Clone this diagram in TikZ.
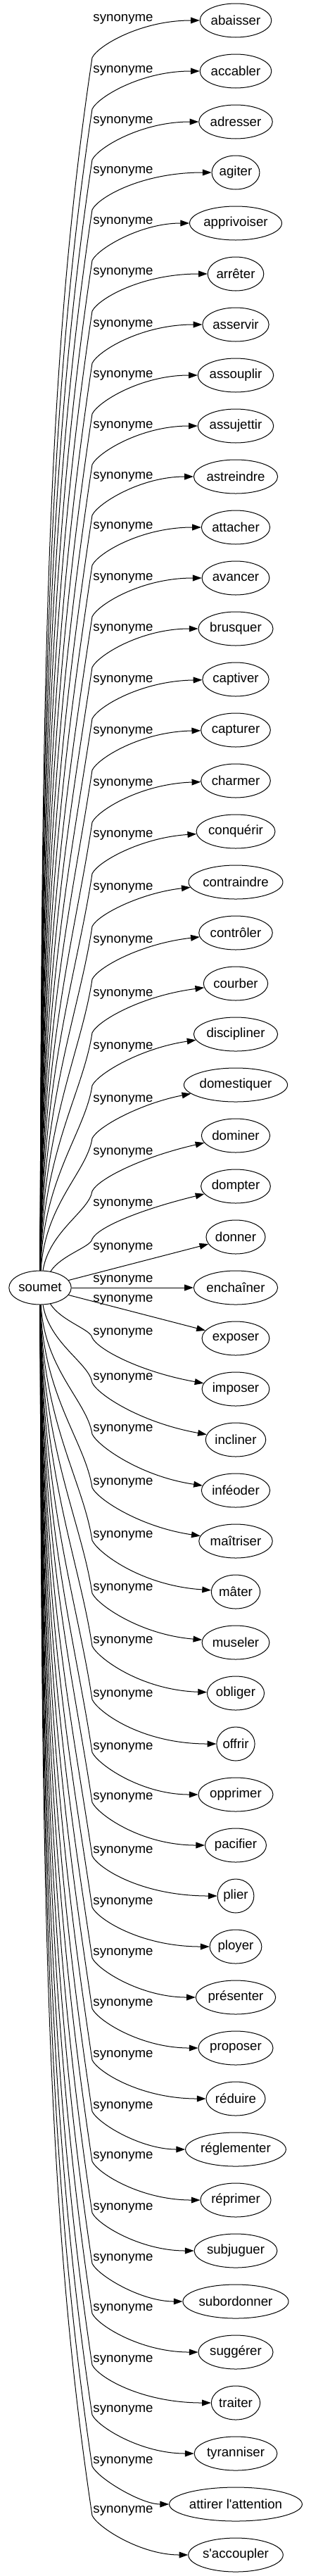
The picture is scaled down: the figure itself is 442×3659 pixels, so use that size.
\documentclass[tikz,border=0pt]{standalone}
\usepackage{fontspec}
\usetikzlibrary{arrows.meta,shapes.geometric}
\newfontfamily\lsans{Liberation Sans}
\newfontfamily\tms{Liberation Serif}
\newlength\twd
\begin{document}
\begin{tikzpicture}[x=0.75pt,y=-0.75pt,
  tgt/.style={draw, ellipse, line width=0.75pt, inner sep=0.5pt, minimum height=36pt, font=\lsans\fontsize{14}{16}\selectfont},
  lbl/.style={inner sep=0pt, font=\lsans\fontsize{14}{16}\selectfont},
  edge/.style={draw, line width=0.75pt, -{Triangle[length=9.5pt,width=6.6pt]}}]
\useasboundingbox (0,0) rectangle (442,3659);
\settowidth\twd{\tms\fontsize{14}{16}\selectfont soumet}
\pgfmathsetmacro\ew{1.4142*(\twd+15.84)}
\node[tgt, minimum width=\ew pt] (soumet) at (57,1829) {soumet};
\foreach \idx/\txt/\acc/\lab/\dl in {
0/abaisser/0/27/0,
1/accabler/0/100/0,
2/adresser/0/172/0,
3/agiter/0/243/0,
4/apprivoiser/0/315/0,
5/arrêter/1/387/0,
6/asservir/0/461/0,
7/assouplir/0/533/0,
8/assujettir/0/605/0,
9/astreindre/0/677/0,
10/attacher/0/748/0,
11/avancer/0/821/0,
12/brusquer/0/893/0,
13/captiver/0/966/1,
14/capturer/0/1039/1,
15/charmer/0/1113/2,
16/conquérir/1/1186/4,
17/contraindre/0/1261/7,
18/contrôler/1/1336/7,
19/courber/0/1412/8,
20/discipliner/0/1487/9,
21/domestiquer/0/1562/12,
22/dominer/0/1637/14,
23/dompter/0/1710/15,
24/donner/0/1772/0,
25/enchaîner/1/1818/0,
26/exposer/0/1846/0,
27/imposer/0/1893/-11,
28/incliner/0/1957/-11,
29/inféoder/1/2030/-9,
30/maîtriser/1/2106/-9,
31/mâter/1/2181/-4,
32/museler/0/2256/-5,
33/obliger/0/2331/-2,
34/offrir/0/2407/0,
35/opprimer/0/2482/0,
36/pacifier/0/2553/0,
37/plier/0/2629/0,
38/ployer/0/2702/0,
39/présenter/1/2774/0,
40/proposer/0/2846/0,
41/réduire/1/2919/0,
42/réglementer/2/2992/0,
43/réprimer/1/3063/0,
44/subjuguer/0/3136/0,
45/subordonner/0/3208/0,
46/suggérer/2/3279/0,
47/traiter/0/3352/0,
48/tyranniser/0/3423/0,
49/attirer l'attention/0/3496/0,
50/s'accoupler/0/3566/0}{
  \settowidth\twd{\tms\fontsize{14}{16}\selectfont \txt}
  \pgfmathsetmacro\ew{1.4142*(\twd+7*\acc+15.84)}
  \pgfmathsetmacro\ty{29+72*\idx}
  \node[tgt, minimum width=\ew pt] (t\idx) at (335,\ty) {\txt};
  \node[lbl] (l\idx) at (175,\lab) {synonyme};
  \ifnum\idx<24
    \pgfmathsetmacro\nn{23-\idx}
    \pgfmathsetmacro\Wy{\lab+(\idx==23?50:55)}
    \pgfmathsetmacro\hh{1805-\Wy}
    \pgfmathsetmacro\cc{2+28/(1+1.5*\nn*\nn)}
    \pgfmathsetmacro\cAx{57+\cc}
    \pgfmathsetmacro\cAy{1805-0.5*\hh}
    \pgfmathsetmacro\cBx{131-0.0375*\hh}
    \pgfmathsetmacro\cBy{\Wy+0.25*\hh}
    \pgfmathsetmacro\cCy{\Wy-17}
    \pgfmathsetmacro\cDy{\ty+2.2*\dl}
    \draw[edge] (soumet) .. controls (\cAx,\cAy) and (\cBx,\cBy) .. (131,\Wy) .. controls (139,\cCy) and (200,\cDy) .. (t\idx);
  \else
    \ifnum\idx>26
      \pgfmathsetmacro\nn{\idx-27}
      \pgfmathsetmacro\Wy{\lab+7}
      \pgfmathsetmacro\hh{\Wy-1853}
      \pgfmathsetmacro\cc{2+28/(1+1.5*\nn*\nn)}
      \pgfmathsetmacro\cAx{57+\cc}
      \pgfmathsetmacro\cAy{1853+0.5*\hh}
      \pgfmathsetmacro\cBx{131-0.0375*\hh}
      \pgfmathsetmacro\cBy{\Wy-0.25*\hh}
      \pgfmathsetmacro\cCy{\Wy+17}
      \pgfmathsetmacro\cDy{\ty+2.2*\dl}
      \draw[edge] (soumet) .. controls (\cAx,\cAy) and (\cBx,\cBy) .. (131,\Wy) .. controls (139,\cCy) and (200,\cDy) .. (t\idx);
    \else
      \draw[edge] (soumet) -- (t\idx);
    \fi
  \fi
}
\end{tikzpicture}
\end{document}
